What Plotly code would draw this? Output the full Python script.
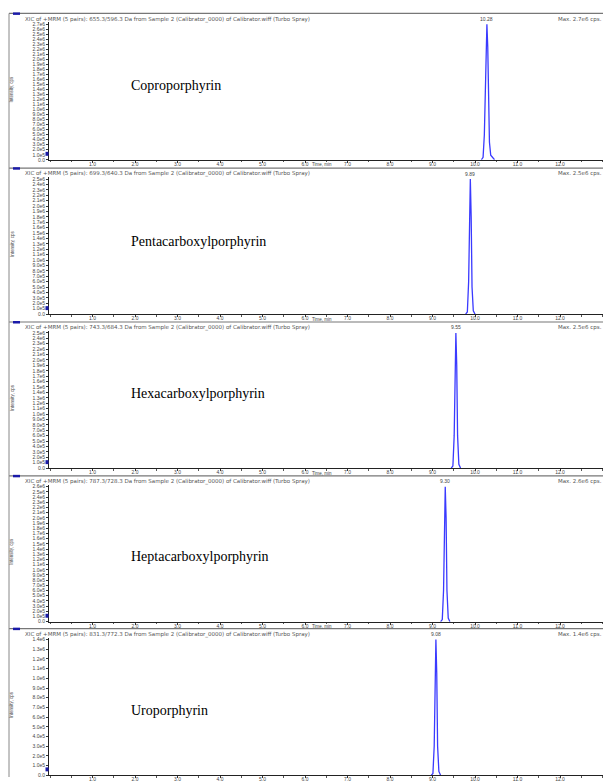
import numpy as np
import plotly.graph_objects as go

W, H = 605, 782

# ---------------- data ----------------
compounds = ["Coproporphyrin", "Pentacarboxylporphyrin", "Hexacarboxylporphyrin",
             "Heptacarboxylporphyrin", "Uroporphyrin"]
transitions = ["655.3/596.3", "699.3/640.3", "743.3/684.3", "787.3/728.3", "831.3/772.3"]
max_cps = ["2.7e6", "2.5e6", "2.5e6", "2.6e6", "1.4e6"]
rt_labels = ["10.28", "9.89", "9.55", "9.30", "9.08"]
y_top_tick = [2.7e6, 2.5e6, 2.5e6, 2.6e6, 1.4e6]

# retention time (min) and intensity (cps)
t_copro = [10.15, 10.19, 10.22, 10.24, 10.26, 10.28, 10.30, 10.32, 10.34, 10.37, 10.42, 10.46]
i_copro = [0, 0.05e6, 0.5e6, 1.3e6, 2.35e6, 2.70e6, 2.25e6, 1.1e6, 0.35e6, 0.09e6, 0.03e6, 0]
t_penta = [9.78, 9.82, 9.85, 9.87, 9.89, 9.91, 9.93, 9.96, 10.00]
i_penta = [0, 0.04e6, 0.6e6, 1.9e6, 2.50e6, 1.8e6, 0.5e6, 0.06e6, 0]
t_hexa = [9.44, 9.48, 9.51, 9.53, 9.55, 9.57, 9.59, 9.62, 9.66]
i_hexa = [0, 0.04e6, 0.6e6, 1.9e6, 2.50e6, 1.9e6, 0.6e6, 0.07e6, 0]
t_hepta = [9.19, 9.23, 9.26, 9.28, 9.30, 9.32, 9.34, 9.37, 9.41]
i_hepta = [0, 0.04e6, 0.6e6, 2.0e6, 2.60e6, 2.0e6, 0.6e6, 0.07e6, 0]
t_uro = [8.97, 9.01, 9.04, 9.06, 9.08, 9.10, 9.12, 9.15, 9.19]
i_uro = [0, 0.02e6, 0.3e6, 1.05e6, 1.40e6, 1.05e6, 0.3e6, 0.04e6, 0]

times = [t_copro, t_penta, t_hexa, t_hepta, t_uro]
intens = [i_copro, i_penta, i_hexa, i_hepta, i_uro]

x_tick_vals = [1, 2, 3, 4, 5, 6, 7, 8, 9, 10, 11, 12]
x_tick_text = ["1.0", "2.0", "3.0", "4.0", "5.0", "6.0", "7.0", "8.0", "9.0", "10.0", "11.0", "12.0"]

# ---------------- layout (pixels) ----------------
hdr_y = [12.5, 168.5, 323.5, 478.5, 632.5]
base_y = [160, 315.5, 470.7, 625.5, 780.3]
name_y = [85, 242, 396, 560, 715]
ax_left, ax_right = 49, 603
px_per_min = 42.5
x0_px = 50

SANS = "Liberation Sans"
HDR = "DejaVu Sans"
SERIF = "Liberation Serif"
GRAY = "#444444"
BLUE = "#3a3aff"


def px(x):
    return x / W


def py(y):
    return 1 - y / H


def fmt(v):
    if v == 0:
        return "0.0"
    e = int(np.floor(np.log10(v) + 1e-9))
    return f"{v / 10 ** e:.1f}e{e}"


fig = go.Figure()
layout = dict(width=W, height=H, margin=dict(l=0, r=0, t=0, b=0),
              paper_bgcolor="white", plot_bgcolor="white", showlegend=False)
shapes, annotations = [], []

xr = [(ax_left - x0_px) / px_per_min, (ax_right - x0_px) / px_per_min]

for k in range(5):
    n = k + 1
    xa, ya = f"x{n}", f"y{n}"
    top_tick_px = hdr_y[k] + 11.0
    dom_top_px = top_tick_px - 2
    top = y_top_tick[k]
    rmax = top * (base_y[k] - dom_top_px) / (base_y[k] - top_tick_px)

    fig.add_trace(go.Scatter(x=times[k], y=intens[k], mode="lines",
                             line=dict(color=BLUE, width=1.3),
                             xaxis=xa, yaxis=ya, hoverinfo="skip"))

    yt = list(np.round(np.arange(0, top + 1, 1e5)))
    layout[f"xaxis{n}"] = dict(domain=[px(ax_left), px(ax_right)], range=xr,
                               anchor=ya, showline=True, linecolor="#222", linewidth=1,
                               showgrid=False, zeroline=False, ticks="outside", ticklen=2,
                               tickcolor="#333", tickvals=x_tick_vals, ticktext=x_tick_text,
                               ticklabelstandoff=-3,
                               tickfont=dict(family=SANS, size=5, color=GRAY),
                               minor=dict(dtick=0.5, ticks="outside", ticklen=1.5, tickcolor="#555"))
    layout[f"yaxis{n}"] = dict(domain=[py(base_y[k]), py(dom_top_px)], range=[0, rmax],
                               anchor=xa, showline=True, linecolor="#222", linewidth=1,
                               showgrid=False, zeroline=False, ticks="outside", ticklen=2,
                               tickcolor="#333", tickvals=yt, ticktext=[fmt(v) for v in yt],
                               tickfont=dict(family=SANS, size=5, color=GRAY))

    # header line, blue square, header text
    shapes.append(dict(type="line", xref="paper", yref="paper", x0=px(9), x1=px(603),
                       y0=py(hdr_y[k]), y1=py(hdr_y[k]), line=dict(color="#777", width=1.2)))
    shapes.append(dict(type="rect", xref="paper", yref="paper", x0=px(13), x1=px(20),
                       y0=py(hdr_y[k] + 1.5), y1=py(hdr_y[k] - 1), fillcolor="#1a1aa8",
                       line=dict(width=0)))
    annotations.append(dict(xref="paper", yref="paper", x=px(23), y=py(hdr_y[k] + 0.1),
                            xanchor="left", yanchor="top", showarrow=False,
                            text=f"XIC of +MRM (5 pairs): {transitions[k]} Da from Sample 2 "
                                 f"(Calibrator_0000) of Calibrator.wiff (Turbo Spray)",
                            font=dict(family=HDR, size=5.5, color="#555")))
    annotations.append(dict(xref="paper", yref="paper", x=px(604), y=py(hdr_y[k] + 0.1),
                            xanchor="right", yanchor="top", showarrow=False,
                            text=f"Max. {max_cps[k]} cps.",
                            font=dict(family=HDR, size=5.5, color="#555")))
    # baseline marker
    shapes.append(dict(type="rect", xref="paper", yref="paper", x0=px(45.5), x1=px(48.5),
                       y0=py(base_y[k] - 4), y1=py(base_y[k] - 8), fillcolor="#1a1aa8",
                       line=dict(width=0)))
    # y title
    annotations.append(dict(xref="paper", yref="paper", x=px(12),
                            y=py((hdr_y[k] + base_y[k]) / 2 + 3), textangle=-90,
                            xanchor="center", yanchor="middle", showarrow=False,
                            text="Intensity, cps", font=dict(family=SANS, size=4.5, color=GRAY)))
    # x title
    if k < 4:
        annotations.append(dict(xref="paper", yref="paper", x=px(322), y=py(base_y[k] + 5.0),
                                xanchor="center", yanchor="middle", showarrow=False,
                                text="Time, min", font=dict(family=SANS, size=4.5, color=GRAY)))
    # peak label
    pk = int(np.argmax(intens[k]))
    annotations.append(dict(xref=xa, yref=ya, x=times[k][pk], y=intens[k][pk],
                            xanchor="center", yanchor="bottom", yshift=0.5, showarrow=False,
                            text=rt_labels[k], font=dict(family=SANS, size=5, color=GRAY)))
    # compound name
    annotations.append(dict(xref="paper", yref="paper", x=px(129), y=py(name_y[k]),
                            xanchor="left", yanchor="middle", showarrow=False,
                            text=compounds[k], font=dict(family=SERIF, size=14, color="black")))

# left frame line
shapes.append(dict(type="line", xref="paper", yref="paper", x0=px(9), x1=px(9),
                   y0=py(12.5), y1=py(782), line=dict(color="#888", width=1)))

layout["shapes"] = shapes
layout["annotations"] = annotations
fig.update_layout(**layout)
fig.write_html("out.html", config={"displayModeBar": False},
               post_script="document.body.style.margin='0';"
                           "document.documentElement.style.overflow='hidden';")
